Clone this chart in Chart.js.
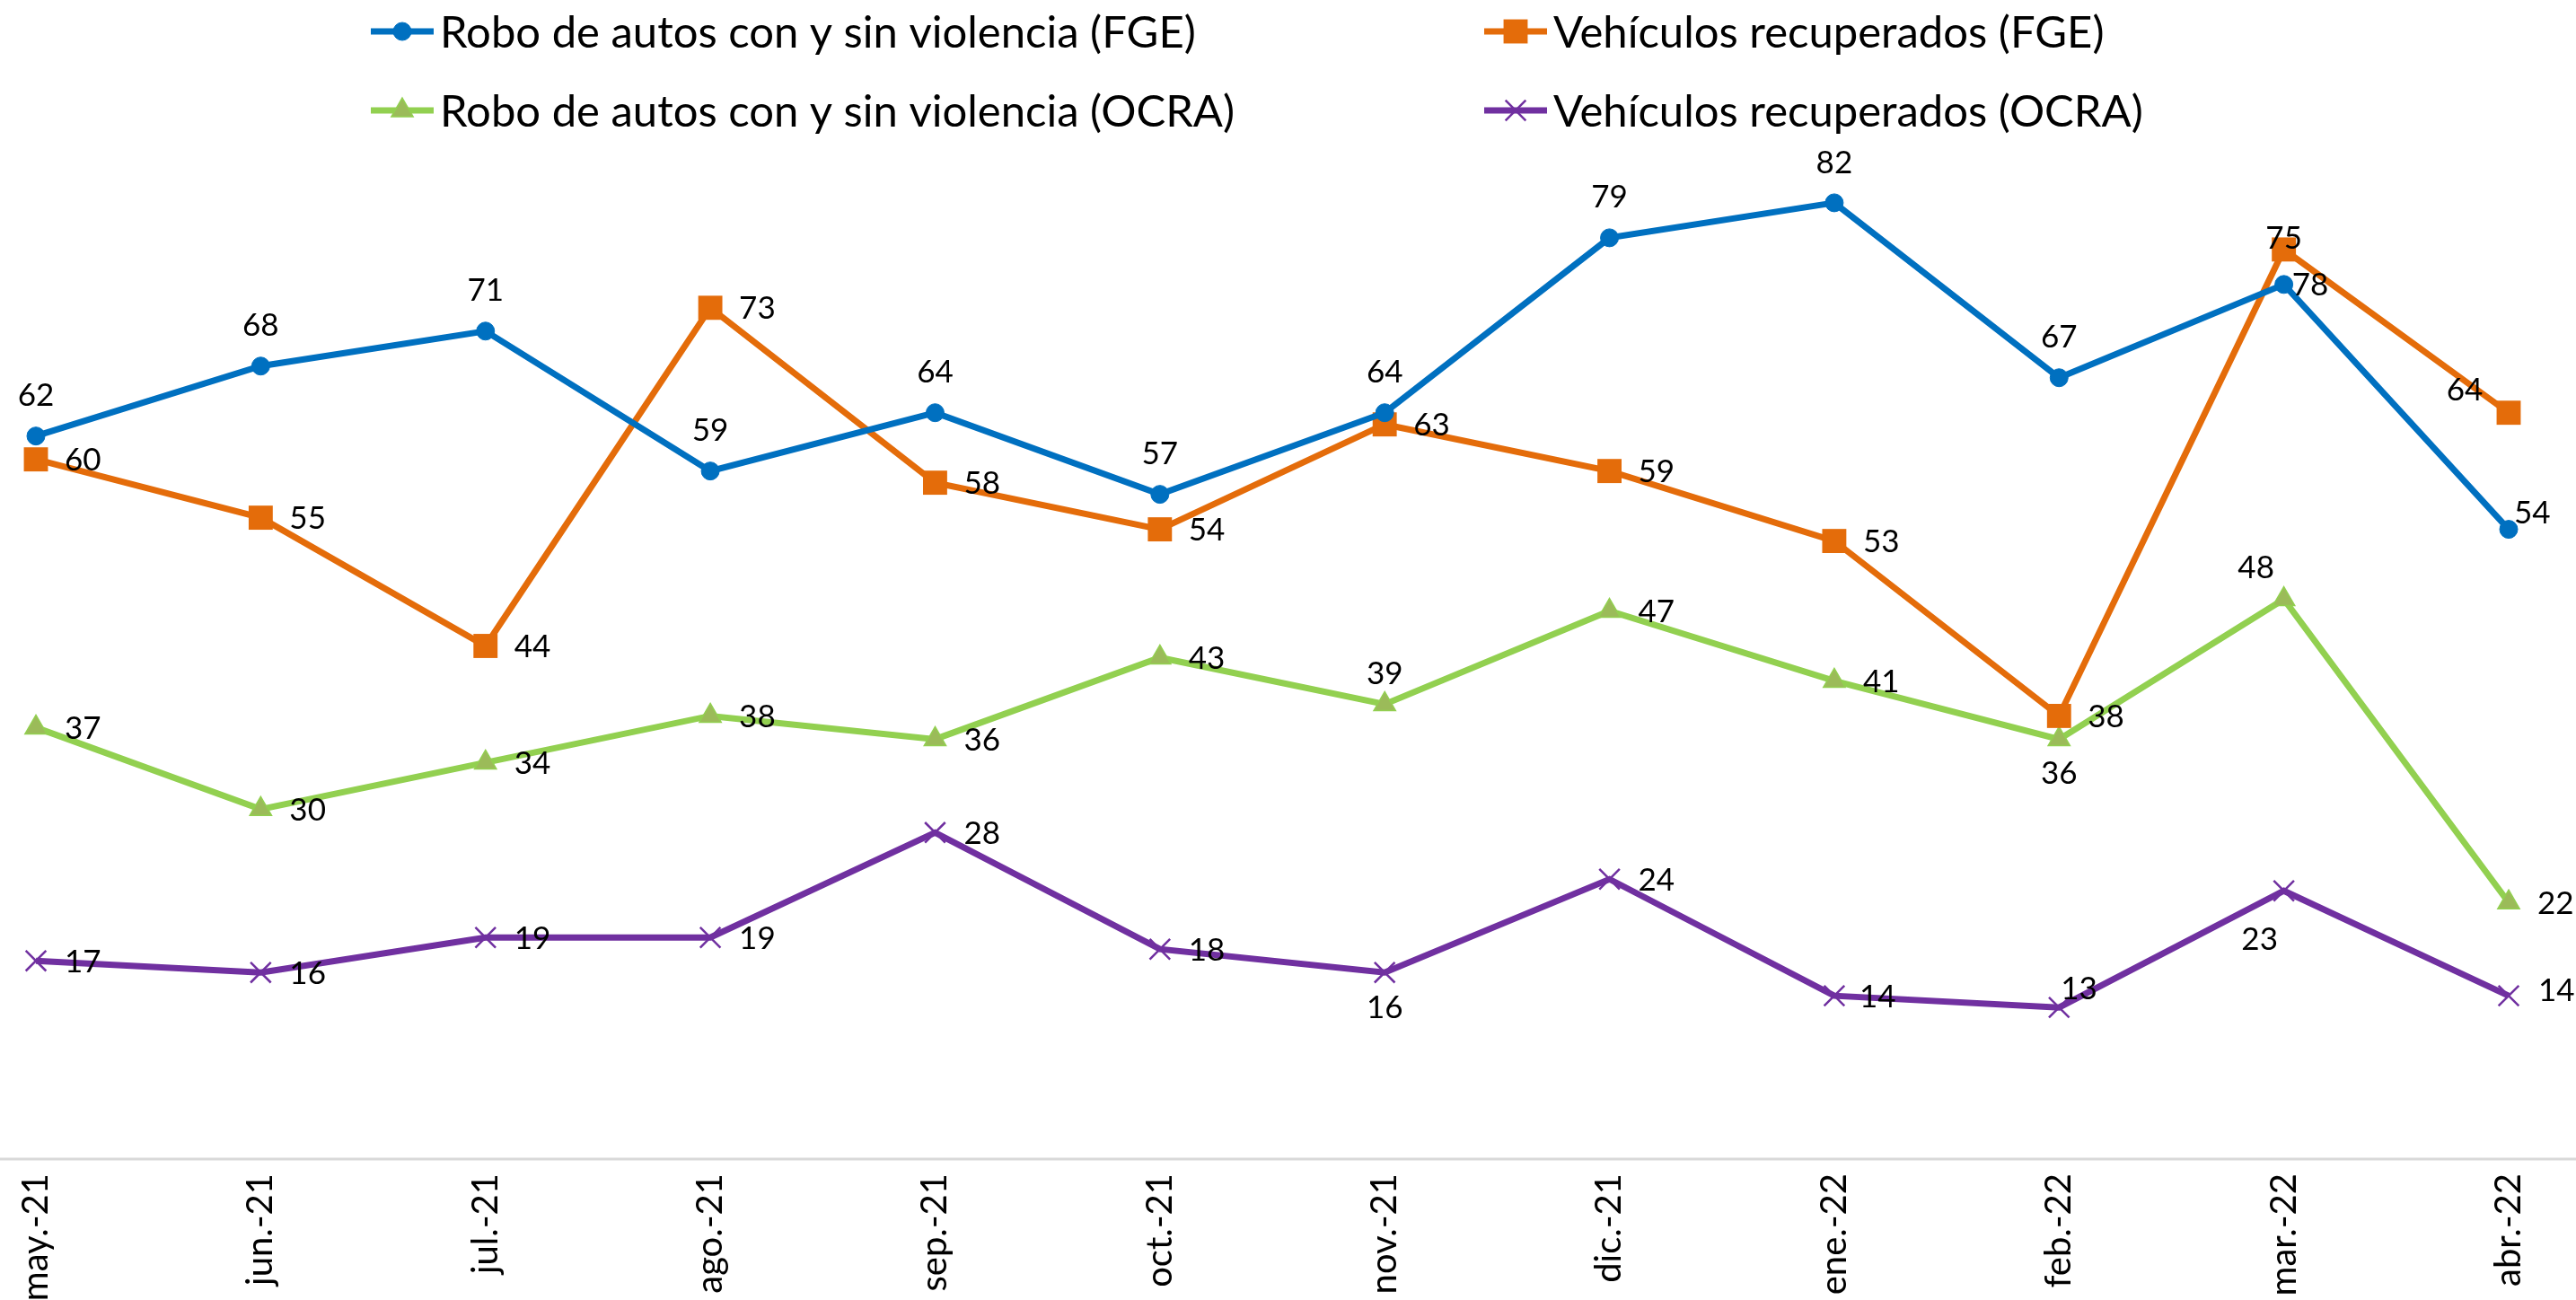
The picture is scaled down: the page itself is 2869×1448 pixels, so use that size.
<!DOCTYPE html>
<html><head><meta charset="utf-8">
<script src="https://cdn.jsdelivr.net/npm/chart.js@4.4.1/dist/chart.umd.min.js"></script>
<style>html,body{margin:0;padding:0;background:#fff;overflow:hidden}canvas{display:block}</style>
</head><body>
<canvas id="c" width="2869" height="1448"></canvas>
<script>
// ---- data ----
const months = ['may.-21','jun.-21','jul.-21','ago.-21','sep.-21','oct.-21','nov.-21','dic.-21','ene.-22','feb.-22','mar.-22','abr.-22'];
const roboFGE   = [62,68,71,59,64,57,64,79,82,67,75,54];
const recupFGE  = [60,55,44,73,58,54,63,59,53,38,78,64];
const roboOCRA  = [37,30,34,38,36,43,39,47,41,36,48,22];
const recupOCRA = [17,16,19,19,28,18,16,24,14,13,23,14];
const seriesNames = [
  'Robo de autos con y sin violencia (FGE)',
  'Vehículos recuperados (FGE)',
  'Robo de autos con y sin violencia (OCRA)',
  'Vehículos recuperados (OCRA)'
];
// label text as printed in the picture where it differs from the plotted point (mar.-22, FGE series)
const printedLabelOverrides = { '0-10': '78', '1-10': '75' };

// ---- styling ----
const FONT = 'Lato, "Open Sans", sans-serif';
const colors = ['#0070C0', '#E46C0A', '#92D050', '#7030A0'];
const markerFill = ['#0070C0', '#E46C0A', '#9BBB59', '#7030A0'];
const pointStyles = ['circle', 'rect', 'triangle', 'crossRot'];
const pointRadii = [10, 19, 14, 16];
const pointBorderW = [1, 0, 1.5, 2.5];

// label placements: t=above, b=below, r=right; objects = individual nudges
const T = {dx:0, dy:-46, align:'center'}, B = {dx:0, dy:37, align:'center'}, R = {dx:32, dy:0, align:'left'};
const labelPlacement = [
  [T,T,T,T,T,T,T,T,T,T,{dx:9,dy:0,align:'left'},{dx:6,dy:-19,align:'left'}],
  [R,R,R,R,R,R,R,R,R,R,{dx:0,dy:-13,align:'center'},{dx:-49,dy:-26,align:'center'}],
  [R,R,R,R,R,R,{dx:0,dy:-35,align:'center'},R,R,B,{dx:-31,dy:-36,align:'center'},R],
  [R,R,R,R,R,R,{dx:0,dy:38,align:'center'},R,{dx:28,dy:0,align:'left'},{dx:2,dy:-22,align:'left'},{dx:-27,dy:53,align:'center'},{dx:33,dy:-7,align:'left'}]
];

const seriesData = [roboFGE, recupFGE, roboOCRA, recupOCRA];

const datasets = seriesData.map((d, i) => ({
  label: seriesNames[i],
  data: d,
  borderColor: colors[i],
  backgroundColor: markerFill[i],
  borderWidth: 7,
  pointStyle: pointStyles[i],
  pointRadius: pointRadii[i],
  pointHoverRadius: pointRadii[i],
  pointBackgroundColor: markerFill[i],
  pointBorderColor: i === 2 ? '#92D050' : colors[i],
  pointBorderWidth: pointBorderW[i],
  tension: 0,
  fill: false
}));

const axisLinePlugin = {
  id: 'axisLine',
  beforeDatasetsDraw(chart) {
    const ctx = chart.ctx, y = chart.chartArea.bottom;
    ctx.save();
    ctx.strokeStyle = '#D9D9D9';
    ctx.lineWidth = 3;
    ctx.beginPath();
    ctx.moveTo(0, y);
    ctx.lineTo(chart.width, y);
    ctx.stroke();
    ctx.restore();
  }
};

const LABEL_SIZE = 35;
const valueLabelPlugin = {
  id: 'valueLabels',
  afterDatasetsDraw(chart) {
    const ctx = chart.ctx;
    ctx.save();
    ctx.font = LABEL_SIZE + 'px ' + FONT;
    ctx.fillStyle = '#000000';
    ctx.textBaseline = 'alphabetic';
    chart.data.datasets.forEach((ds, di) => {
      const meta = chart.getDatasetMeta(di);
      meta.data.forEach((pt, i) => {
        const p = labelPlacement[di][i];
        const key = di + '-' + i;
        const txt = printedLabelOverrides[key] !== undefined ? printedLabelOverrides[key] : String(ds.data[i]);
        ctx.textAlign = p.align;
        ctx.fillText(txt, pt.x + p.dx, pt.y + p.dy + LABEL_SIZE * 0.36);
      });
    });
    ctx.restore();
  }
};

const LEG_SIZE = 49;
const legendPlugin = {
  id: 'twoColLegend',
  afterDraw(chart) {
    const ctx = chart.ctx;
    const cols = [413, 1653], rows = [35, 123];
    ctx.save();
    chart.data.datasets.forEach((ds, i) => {
      const x0 = cols[i % 2], y = rows[Math.floor(i / 2)];
      ctx.strokeStyle = colors[i];
      ctx.lineWidth = 7;
      ctx.beginPath();
      ctx.moveTo(x0, y);
      ctx.lineTo(x0 + 70, y);
      ctx.stroke();
      ctx.fillStyle = markerFill[i];
      ctx.strokeStyle = i === 2 ? '#92D050' : colors[i];
      ctx.lineWidth = pointBorderW[i];
      Chart.helpers.drawPoint(ctx, {pointStyle: pointStyles[i], radius: pointRadii[i], rotation: 0, borderWidth: pointBorderW[i]}, x0 + 35, y);
      ctx.fillStyle = '#000000';
      ctx.font = LEG_SIZE + 'px ' + FONT;
      ctx.textAlign = 'left';
      ctx.textBaseline = 'alphabetic';
      ctx.fillText(ds.label, x0 + 77, y + LEG_SIZE * 0.36);
    });
    ctx.restore();
  }
};

new Chart(document.getElementById('c'), {
  type: 'line',
  data: { labels: months, datasets },
  plugins: [axisLinePlugin, valueLabelPlugin, legendPlugin],
  options: {
    responsive: false,
    devicePixelRatio: 1,
    animation: false,
    events: [],
    layout: { padding: { top: 122, left: 40, right: 75, bottom: 0 } },
    plugins: { legend: { display: false }, tooltip: { enabled: false }, title: { display: false } },
    scales: {
      x: {
        type: 'category',
        offset: false,
        grid: { display: false },
        border: { display: false },
        ticks: {
          autoSkip: false,
          minRotation: 90,
          maxRotation: 90,
          padding: 8,
          color: '#000000',
          font: { family: FONT, size: 40 }
        },
        afterFit(scale) { scale.height = 157; }
      },
      y: { display: false, min: 0, max: 90 }
    }
  }
});
</script>
</body></html>
